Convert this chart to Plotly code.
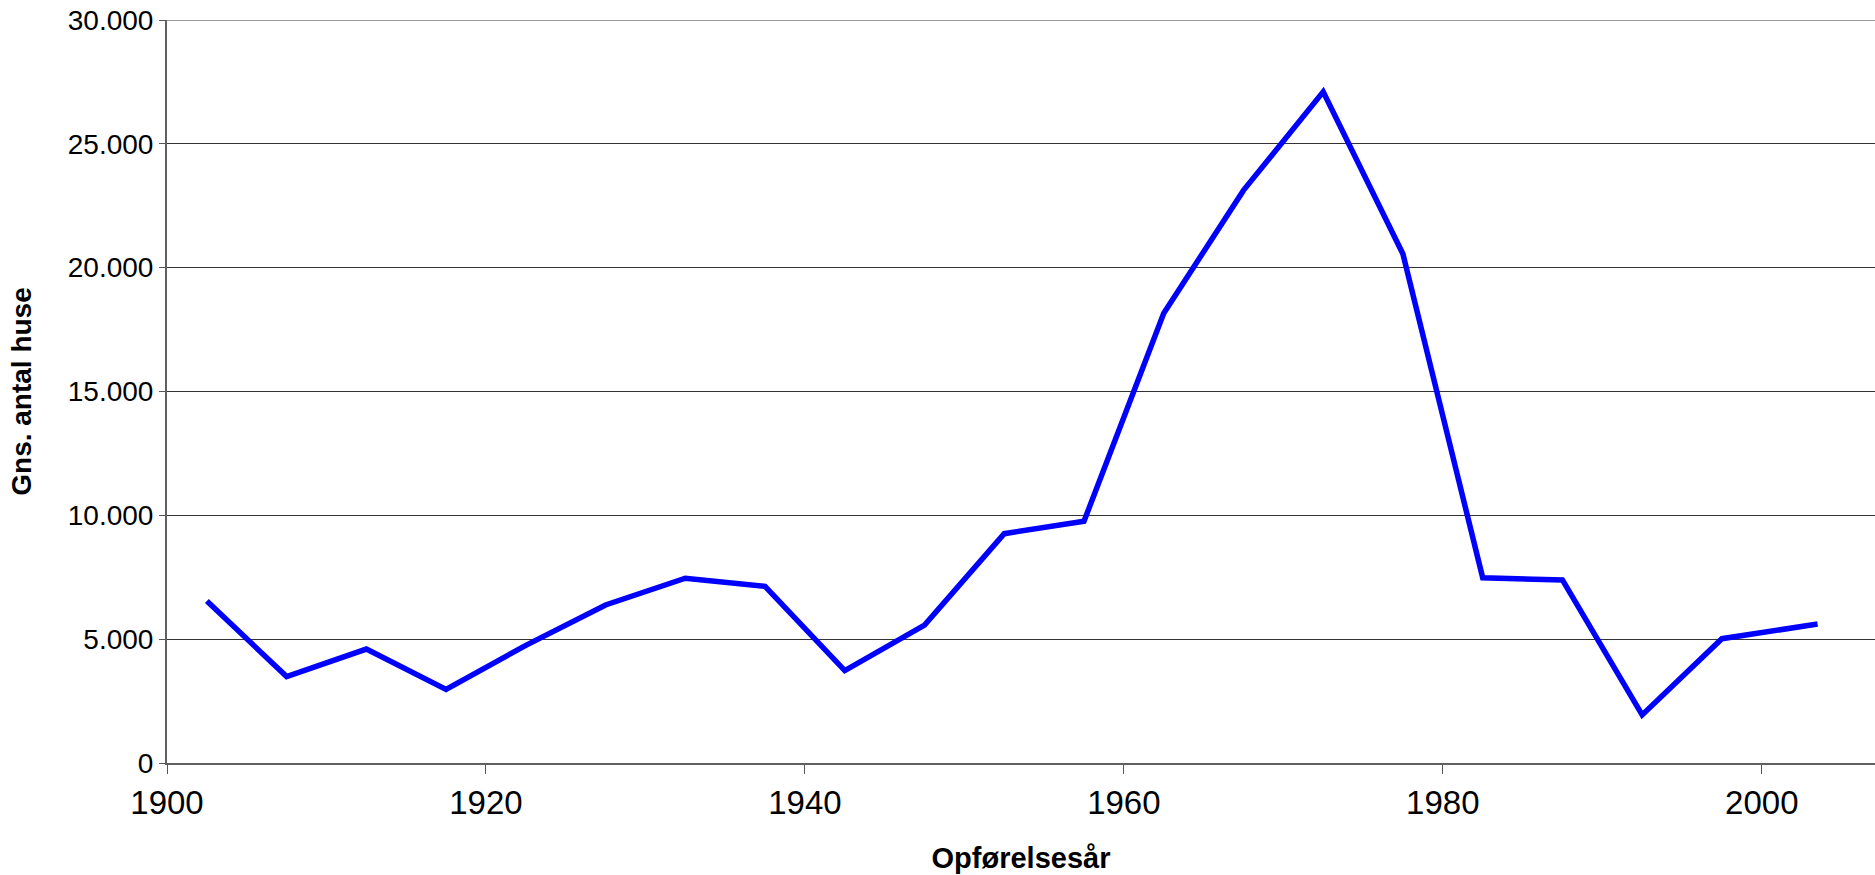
import plotly.graph_objects as go

years = [1902.5, 1907.5, 1912.5, 1917.5, 1922.5, 1927.5, 1932.5, 1937.5, 1942.5,
         1947.5, 1952.5, 1957.5, 1962.5, 1967.5, 1972.5, 1977.5, 1982.5, 1987.5,
         1992.5, 1997.5, 2003.5]
houses = [6540, 3490, 4600, 2970, 4750, 6380, 7460, 7130, 3730,
          5570, 9260, 9760, 18160, 23120, 27100, 20550, 7480, 7390,
          1940, 5020, 5610]

x_title = "Opførelsesår"
y_title = "Gns. antal huse"
x_ticks = [1900, 1920, 1940, 1960, 1980, 2000]
y_ticks = [0, 5000, 10000, 15000, 20000, 25000, 30000]

fig = go.Figure()
fig.add_trace(go.Scatter(
    x=years, y=houses, mode="lines",
    line=dict(color="#0000FF", width=5.5),
    showlegend=False,
))

fig.update_layout(
    width=1875, height=875,
    margin=dict(l=167, r=0, t=20, b=112, autoexpand=False),
    paper_bgcolor="white", plot_bgcolor="white",
    separators=",.",
    font=dict(family="Liberation Sans, Arial, sans-serif", color="black"),
)

fig.update_xaxes(
    range=[1900, 2007.1],
    automargin=False,
    tickvals=x_ticks,
    ticktext=[str(v) for v in x_ticks],
    ticks="outside", ticklen=9, tickwidth=1, tickcolor="#555555",
    tickfont=dict(family="Liberation Sans Narrow, Arial Narrow, Liberation Sans, sans-serif", size=33, color="black"),
    ticklabeloverflow="allow",
    showgrid=False, zeroline=False,
    showline=True, linecolor="#606060", linewidth=2,
    title=dict(text="<b>" + x_title + "</b>",
               font=dict(family="Liberation Sans, Arial, sans-serif", size=29, color="black"),
               standoff=28),
)

fig.update_yaxes(
    range=[0, 30000],
    automargin=False,
    tickvals=y_ticks,
    tickformat=",d",
    ticks="outside", ticklen=6, tickwidth=1, tickcolor="#555555",
    tickfont=dict(family="Liberation Sans, Arial, sans-serif", size=28, color="black"),
    ticklabeloverflow="allow",
    showgrid=True, gridcolor="#333333", gridwidth=1,
    zeroline=False,
    showline=True, linecolor="#606060", linewidth=2,
    title=dict(text="<b>" + y_title + "</b>",
               font=dict(family="Liberation Sans, Arial, sans-serif", size=28, color="black"),
               standoff=28),
)

fig.add_shape(type="line", xref="paper", yref="y", x0=0, x1=1, y0=30000, y1=30000,
              line=dict(color="#999999", width=2), layer="above")

fig.write_html("out.html",
               config={"displayModeBar": False},
               post_script="document.body.style.margin='0';document.body.style.overflow='hidden';")
